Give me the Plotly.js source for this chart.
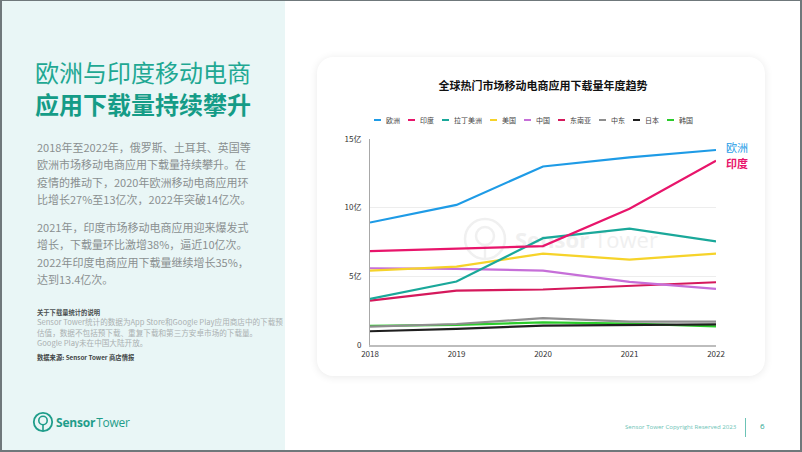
<!DOCTYPE html>
<html>
<head>
<meta charset="utf-8">
<script src="https://cdn.plot.ly/plotly-3.0.1.min.js"></script>
<style>
  html, body { margin:0; padding:0; }
  body { width:802px; height:452px; position:relative; overflow:hidden; background:#ffffff;
         font-family:"Noto Sans CJK SC","Noto Sans",sans-serif; }
  #left { position:absolute; left:0; top:0; width:285px; height:452px; background:#e9f6f6; }
  .abs { position:absolute; white-space:nowrap; }
  #h1 { left:35px; top:57px; font-size:24px; line-height:30px; color:#1fa893; letter-spacing:0px; }
  #h2 { left:35px; top:89px; font-size:24px; line-height:30px; color:#159c87; font-weight:bold; }
  .para { left:37px; font-size:11px; line-height:17.3px; color:#8a8f90; }
  #p1 { top:139px; }
  #p2 { top:219px; }
  #noteT { left:37px; top:308px; font-size:6.3px; line-height:10px; color:#4a4f50; font-weight:bold; }
  #note { left:37px; top:317px; font-size:7.6px; line-height:10.6px; color:#a9b0b1; }
  #src { left:37px; top:353px; font-size:6.3px; line-height:10px; color:#3f4445; font-weight:bold; }
  #logo { left:32px; top:411px; height:22px; display:flex; align-items:center; }
  #logo .t1 { font-family:"Open Sans",sans-serif; font-weight:bold; font-size:12px; color:#1f9d8a; margin-left:2px; letter-spacing:-0.2px; }
  #logo .t2 { font-family:"Open Sans",sans-serif; font-size:12px; color:#1f9d8a; margin-left:1px; letter-spacing:-0.3px; }
  #card { position:absolute; left:317px; top:57px; width:448px; height:319px; background:#fff;
          border-radius:16px; box-shadow:0 1px 9px rgba(0,0,0,0.09); }
  #wm { left:463px; top:218px; height:42px; display:flex; align-items:center; }
  #wm .t1 { font-family:"Open Sans",sans-serif; font-weight:bold; font-size:22px; color:#f0f0f0; margin-left:8px; }
  #wm .t2 { font-family:"Open Sans",sans-serif; font-size:22px; color:#f0f0f0; margin-left:5px; }
  #plot { position:absolute; left:0; top:0; width:802px; height:452px; z-index:5; }
  #foot { left:625px; top:422px; font-family:"Open Sans",sans-serif; font-size:6.1px; color:#6cc3b6; }
  #bar { position:absolute; left:745px; top:418px; width:1px; height:19px; background:#6cc3b6; }
  #pg { left:760px; top:420px; font-family:"Open Sans",sans-serif; font-size:8px; color:#2aa592; }
  #frame { position:absolute; left:0; top:0; width:802px; height:452px; box-sizing:border-box;
           border:2px solid #6f787b; border-top-width:1px; z-index:10; pointer-events:none; }
</style>
</head>
<body>
<div id="left"></div>
<div class="abs" id="h1">欧洲与印度移动电商</div>
<div class="abs" id="h2">应用下载量持续攀升</div>
<div class="abs para" id="p1">2018年至2022年，俄罗斯、土耳其、英国等<br>欧洲市场移动电商应用下载量持续攀升。在<br>疫情的推动下，2020年欧洲移动电商应用环<br>比增长27%至13亿次，2022年突破14亿次。</div>
<div class="abs para" id="p2">2021年，印度市场移动电商应用迎来爆发式<br>增长，下载量环比激增38%，逼近10亿次。<br>2022年印度电商应用下载量继续增长35%，<br>达到13.4亿次。</div>
<div class="abs" id="noteT">关于下载量统计的说明</div>
<div class="abs" id="note">Sensor Tower统计的数据为App Store和Google Play应用商店中的下载预<br>估值，数据不包括预下载、重复下载和第三方安卓市场的下载量。<br>Google Play未在中国大陆开放。</div>
<div class="abs" id="src">数据来源: Sensor Tower 商店情报</div>
<div class="abs" id="logo">
  <svg width="22" height="22" viewBox="-11 -11 22 22">
    <circle cx="0" cy="0" r="9.2" fill="none" stroke="#1f9d8a" stroke-width="1.8"/>
    <circle cx="0" cy="-1.5" r="4.2" fill="none" stroke="#1f9d8a" stroke-width="1.6"/>
    <line x1="0" y1="2.7" x2="0" y2="9.2" stroke="#1f9d8a" stroke-width="1.6"/>
  </svg>
  <span class="t1">Sensor</span><span class="t2">Tower</span>
</div>
<div id="card"></div>
<div class="abs" id="wm">
  <svg width="44" height="44" viewBox="-22 -22 44 44">
    <circle cx="0" cy="0" r="20" fill="none" stroke="#f0f0f0" stroke-width="2.5"/>
    <circle cx="0" cy="-3" r="9" fill="none" stroke="#f0f0f0" stroke-width="2.5"/>
    <line x1="0" y1="6" x2="0" y2="20" stroke="#f0f0f0" stroke-width="2.5"/>
  </svg>
  <span class="t1">Sensor</span><span class="t2">Tower</span>
</div>
<div class="abs" id="foot">Sensor Tower Copyright Reserved 2023</div>
<div id="bar"></div>
<div class="abs" id="pg">6</div>
<div id="plot"></div>
<div id="frame"></div>
<script>
// ---- data ----
var years = [2018, 2019, 2020, 2021, 2022];
var seriesNames = ["欧洲", "印度", "拉丁美洲", "美国", "中国", "东南亚", "中东", "日本", "韩国"];
var seriesColors = ["#1e9be6", "#e8156b", "#1aa89a", "#f6d32a", "#c66fd8", "#d5195c", "#8e8e8e", "#1f1f1f", "#2bcc2b"];
var europe  = [8.92, 10.2, 13.0, 13.66, 14.2];
var india   = [6.83, 7.0, 7.2, 9.92, 13.42];
var latam   = [3.36, 4.62, 7.78, 8.48, 7.54];
var usa     = [5.42, 5.71, 6.66, 6.22, 6.66];
var china   = [5.59, 5.55, 5.42, 4.6, 4.08];
var sea     = [3.23, 3.96, 4.04, 4.3, 4.57];
var mideast = [1.34, 1.53, 1.95, 1.70, 1.70];
var japan   = [1.0, 1.17, 1.41, 1.48, 1.5];
var korea   = [1.39, 1.46, 1.65, 1.55, 1.36];
var yTickVals = [0, 5, 10, 15];
var yTickText = ["0", "5亿", "10亿", "15亿"];
var chartTitle = "全球热门市场移动电商应用下载量年度趋势";
var endLabels = ["欧洲", "印度"];

var seriesValues = [europe, india, latam, usa, china, sea, mideast, japan, korea];
var FONT = "Noto Sans CJK SC, Noto Sans, sans-serif";

// plot area in page pixels
var L = 370, R = 716, T = 139, B = 345;
function px2x(px) { return (px - L) / (R - L); }
function py2y(py) { return (B - py) / (B - T); }

var traces = seriesNames.map(function (n, i) {
  return { x: years, y: seriesValues[i], name: n, type: "scatter", mode: "lines",
           line: { color: seriesColors[i], width: 2.2 }, showlegend: false, hoverinfo: "skip" };
});
// draw order: low lines first
traces = [traces[8], traces[7], traces[6], traces[5], traces[4], traces[3], traces[2], traces[1], traces[0]];

var shapes = [], annotations = [];
// custom compact legend
var lx = 374, ly = 120;
seriesNames.forEach(function (n, i) {
  shapes.push({ type: "line", xref: "paper", yref: "paper",
    x0: px2x(lx), x1: px2x(lx + 7), y0: py2y(ly), y1: py2y(ly),
    line: { color: seriesColors[i], width: 2 } });
  annotations.push({ xref: "paper", yref: "paper", x: px2x(lx + 10), y: py2y(ly),
    xanchor: "left", yanchor: "middle", showarrow: false, text: n,
    font: { family: FONT, size: 7, color: "#444" } });
  lx += 7 + 3 + n.length * 7 + 10;
});
// end labels
annotations.push({ xref: "paper", yref: "y", x: px2x(724), y: europe[4] + 0.2, xanchor: "left", yanchor: "middle",
  showarrow: false, text: endLabels[0], font: { family: FONT, size: 11, color: seriesColors[0] } });
annotations.push({ xref: "paper", yref: "y", x: px2x(724), y: india[4] - 0.2, xanchor: "left", yanchor: "middle",
  showarrow: false, text: "<b>" + endLabels[1] + "</b>", font: { family: FONT, size: 11, color: seriesColors[1] } });

var layout = {
  width: 802, height: 452,
  margin: { l: L, r: 802 - R, t: T, b: 452 - B, pad: 0 },
  paper_bgcolor: "rgba(0,0,0,0)", plot_bgcolor: "rgba(0,0,0,0)",
  title: { text: "<b>" + chartTitle + "</b>", font: { family: FONT, size: 11, color: "#111" },
           xref: "container", yref: "container", x: 543 / 802, y: (452 - 86) / 452,
           xanchor: "center", yanchor: "middle" },
  xaxis: { range: [2018, 2022], tickvals: years, ticktext: years.map(String), showgrid: false,
           zeroline: false, showline: true, linecolor: "#bdbdbd", linewidth: 2, ticks: "",
           tickfont: { family: FONT, size: 8, color: "#333" }, fixedrange: true },
  yaxis: { range: [0, 15], tickvals: yTickVals, ticktext: yTickText, showgrid: true,
           gridcolor: "#ededed", gridwidth: 1, zeroline: false, showline: true, linecolor: "#a8a8a8",
           linewidth: 1, ticks: "", ticklabelstandoff: 6,
           tickfont: { family: FONT, size: 8, color: "#333" }, fixedrange: true },
  shapes: shapes,
  annotations: annotations,
  showlegend: false
};
Plotly.newPlot("plot", traces, layout, { staticPlot: true, displayModeBar: false });
</script>
</body>
</html>
